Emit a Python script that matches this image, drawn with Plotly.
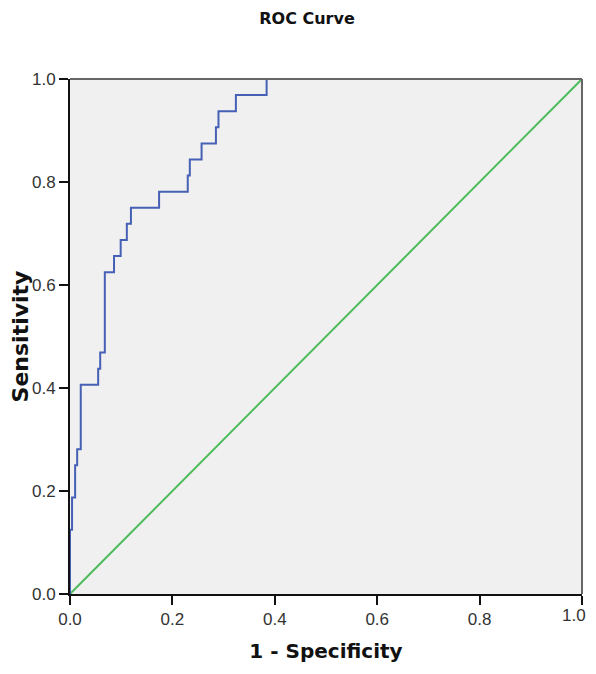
import plotly.graph_objects as go

# ROC curve step vertices (1 - specificity, sensitivity)
fpr = [0.0, 0.0, 0.004, 0.010, 0.014, 0.021, 0.055, 0.059, 0.068, 0.086, 0.099,
       0.111, 0.119, 0.174, 0.230, 0.234, 0.257, 0.285, 0.290, 0.324, 0.384, 1.0]
tpr = [0.0, 0.125, 0.1875, 0.25, 0.28125, 0.40625, 0.4375, 0.46875, 0.625, 0.65625,
       0.6875, 0.71875, 0.75, 0.78125, 0.8125, 0.84375, 0.875, 0.90625, 0.9375,
       0.96875, 1.0, 1.0]

ref_x = [0.0, 1.0]
ref_y = [0.0, 1.0]

tick_vals = [0.0, 0.2, 0.4, 0.6, 0.8, 1.0]
tick_text = ["0.0", "0.2", "0.4", "0.6", "0.8", "1.0"]

tick_font = dict(family="Liberation Sans, Arial", size=17, color="#333333")

fig = go.Figure()
fig.add_trace(go.Scatter(x=ref_x, y=ref_y, mode="lines",
                         line=dict(color="#4cbb5a", width=2), showlegend=False))
fig.add_trace(go.Scatter(x=fpr, y=tpr, mode="lines", line_shape="hv",
                         line=dict(color="#4560b5", width=2), showlegend=False))

# grey top and right frame
fig.add_shape(type="line", xref="paper", yref="paper", x0=0, x1=1, y0=1, y1=1,
              line=dict(color="#666666", width=2))
fig.add_shape(type="line", xref="paper", yref="paper", x0=1, x1=1, y0=0, y1=1,
              line=dict(color="#666666", width=2))

axis_common = dict(range=[0, 1], tickvals=tick_vals,
                   showgrid=False, zeroline=False, showline=True, automargin=False,
                   linecolor="#111111", linewidth=2, ticks="outside",
                   ticklen=9, tickwidth=2, tickcolor="#111111", tickfont=tick_font)

# last x tick label is drawn as a right-aligned annotation so it stays inside the window
x_ticktext = tick_text[:-1] + [""]
fig.update_xaxes(**axis_common, ticktext=x_ticktext,
                 title=dict(text="<b>1 - Specificity</b>", standoff=16,
                            font=dict(family="DejaVu Sans", size=20, color="#111111")))
fig.update_yaxes(**axis_common, ticktext=tick_text,
                 title=dict(text="<b>Sensitivity</b>", standoff=8,
                            font=dict(family="DejaVu Sans", size=22, color="#111111")))

fig.add_annotation(x=tick_vals[-1], xref="x", y=0, yref="paper", text=tick_text[-1],
                   showarrow=False, xanchor="right", yanchor="top", xshift=6, yshift=-10,
                   font=tick_font)

fig.update_layout(
    width=596, height=658,
    margin=dict(l=62, r=22, t=71, b=72, autoexpand=False),
    plot_bgcolor="#f0f0f0", paper_bgcolor="white",
    title=dict(text="<b>ROC Curve</b>", x=299 / 596, xanchor="center", y=1 - 10 / 658, yanchor="middle",
               font=dict(family="DejaVu Sans", size=16, color="#111111")),
)

fig.write_html("out.html")
